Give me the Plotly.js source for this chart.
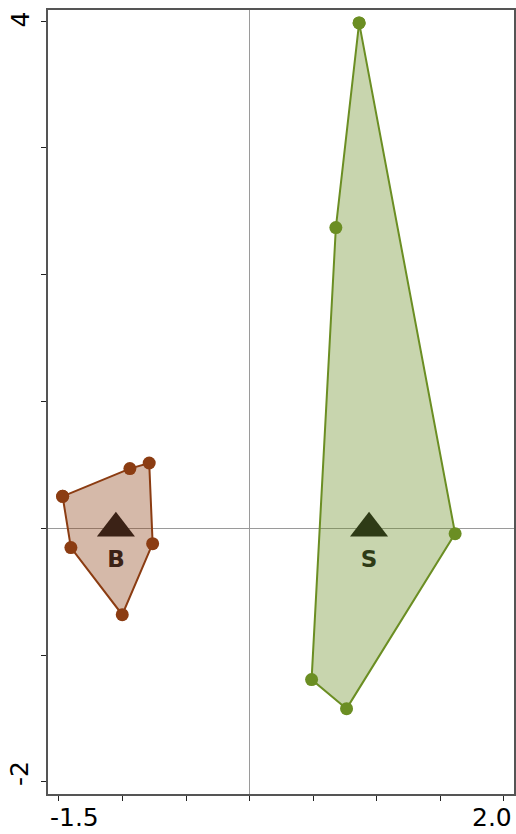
<!DOCTYPE html>
<html>
<head>
<meta charset="utf-8">
<script src="https://cdn.plot.ly/plotly-3.0.1.min.js"></script>
<style>
  html, body { margin: 0; padding: 0; background: #fff; }
  #chart { width: 516px; height: 834px; }
</style>
</head>
<body>
<div id="chart"></div>
<script>
'use strict';

// Grupo B - vertices del poligono (en orden)
let bX = [-1.471, -0.942, -0.790, -0.763, -1.002, -1.406];
let bY = [0.252, 0.471, 0.515, -0.121, -0.681, -0.152];

// Grupo S - vertices del poligono
let sX = [0.861, 1.616, 0.762, 0.487, 0.678];
let sY = [3.985, -0.042, -1.422, -1.193, 2.371];

// Centros de grupo
let centroNombres = ['B', 'S'];
let centroX = [-1.052, 0.939];
let centroY = [0, 0];

// Ejes
let xTickVals = [-1.5, -1.0, -0.5, 0, 0.5, 1.0, 1.5, 2.0];
let xTickText = ['-1.5', '', '', '', '', '', '', '2.0'];
let yTickVals = [-2, -1, 0, 1, 2, 3, 4];
let yTickText = ['-2', '', '', '', '', '', '4'];

let colorB = '#8b3c12';
let colorS = '#6b8e23';
let colorCentro = ['#3b2216', '#2e3b16'];

function cerrar(arr) {
    return arr.concat([arr[0]]);
}

let traceB = {
    type: 'scatter',
    mode: 'lines+markers',
    x: cerrar(bX),
    y: cerrar(bY),
    fill: 'toself',
    fillcolor: 'rgba(139,60,18,0.36)',
    line: { color: colorB, width: 2 },
    marker: { color: colorB, size: 13 },
    hoverinfo: 'skip'
};

let traceS = {
    type: 'scatter',
    mode: 'lines+markers',
    x: cerrar(sX),
    y: cerrar(sY),
    fill: 'toself',
    fillcolor: 'rgba(107,142,35,0.37)',
    line: { color: colorS, width: 2 },
    marker: { color: colorS, size: 13 },
    hoverinfo: 'skip'
};

let traceCentros = {
    type: 'scatter',
    mode: 'markers+text',
    x: centroX,
    y: centroY,
    text: centroNombres,
    textposition: 'bottom center',
    textfont: { family: 'DejaVu Sans', size: 23, color: colorCentro, weight: 'bold' },
    marker: { symbol: 'triangle-up', size: 33, color: colorCentro, line: { width: 0 } },
    hoverinfo: 'skip'
};

// etiquetas de los extremos, pegadas a los bordes del area
let fuenteTick = { family: 'DejaVu Sans', size: 25, color: '#000' };
let anotaciones = [
    { xref: 'paper', yref: 'paper', x: 0, y: 0, xanchor: 'left', yanchor: 'top', yshift: -7,
      text: xTickText[0], showarrow: false, font: fuenteTick },
    { xref: 'paper', yref: 'paper', x: 1, y: 0, xanchor: 'right', yanchor: 'top', yshift: -7,
      text: xTickText[xTickText.length - 1], showarrow: false, font: fuenteTick },
    { xref: 'paper', yref: 'paper', x: 0, y: 1, xanchor: 'right', yanchor: 'top', xshift: -12,
      text: yTickText[yTickText.length - 1], textangle: -90, showarrow: false, font: fuenteTick },
    { xref: 'paper', yref: 'paper', x: 0, y: 0, xanchor: 'right', yanchor: 'bottom', xshift: -12, yshift: 6,
      text: yTickText[0], textangle: -90, showarrow: false, font: fuenteTick }
];

let layout = {
    width: 516,
    height: 834,
    margin: { l: 48, r: 2, t: 10, b: 40 },
    paper_bgcolor: '#fff',
    plot_bgcolor: '#fff',
    showlegend: false,
    hovermode: false,
    xaxis: {
        range: [-1.586, 2.079],
        tickvals: xTickVals,
        showticklabels: false,
        ticks: 'outside',
        ticklen: 5,
        tickwidth: 1,
        tickcolor: '#222',
        showgrid: false,
        zeroline: true,
        zerolinecolor: '#9a9a9a',
        zerolinewidth: 1,
        showline: true,
        linecolor: '#555',
        linewidth: 2,
        mirror: true
    },
    yaxis: {
        range: [-2.095, 4.087],
        tickvals: yTickVals,
        showticklabels: false,
        ticks: 'outside',
        ticklen: 5,
        tickwidth: 1,
        tickcolor: '#222',
        showgrid: false,
        zeroline: true,
        zerolinecolor: '#9a9a9a',
        zerolinewidth: 1,
        showline: true,
        linecolor: '#555',
        linewidth: 2,
        mirror: true
    },
    annotations: anotaciones
};

let config = { displayModeBar: false, staticPlot: true };

Plotly.newPlot('chart', [traceB, traceS, traceCentros], layout, config);
</script>
</body>
</html>
